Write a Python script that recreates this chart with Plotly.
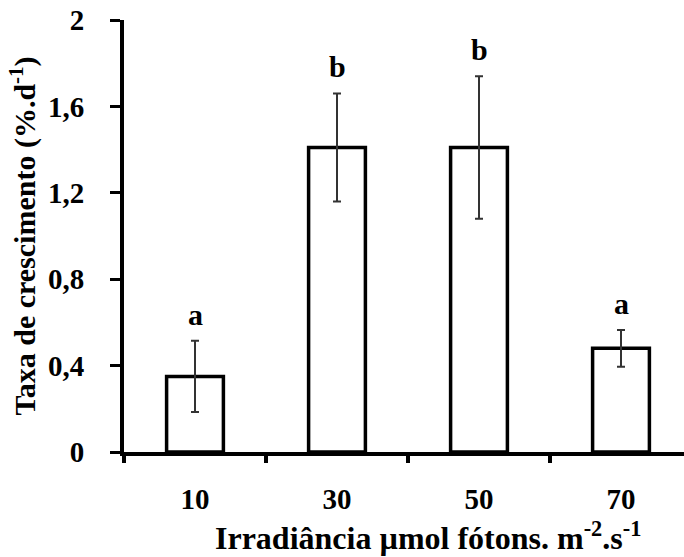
import plotly.graph_objects as go

# Irradiance treatments and mean growth rate with error (± deviation)
irradiance = ["10", "30", "50", "70"]
growth_rate = [0.35, 1.41, 1.41, 0.48]
growth_err = [0.165, 0.25, 0.33, 0.085]
group_letters = ["a", "b", "b", "a"]

y_ticks = [0, 0.4, 0.8, 1.2, 1.6, 2.0]
y_tick_text = ["0", "0,4", "0,8", "1,2", "1,6", "2"]

FONT = "Liberation Serif"

fig = go.Figure()
fig.add_trace(go.Bar(
    x=irradiance,
    y=growth_rate,
    marker=dict(color="white", line=dict(color="black", width=3.5)),
    error_y=dict(type="data", array=growth_err, visible=True,
                 color="#333333", thickness=2, width=4),
    showlegend=False,
))

# significance letters sitting just above each error bar
for i, (letter, m, e) in enumerate(zip(group_letters, growth_rate, growth_err)):
    fig.add_annotation(x=i, y=m + e, text=f"<b>{letter}</b>",
                       showarrow=False, xref="x", yref="y",
                       yanchor="bottom", yshift=8,
                       font=dict(family=FONT, size=30, color="black"))

fig.add_annotation(
    x=0.543, y=0, xref="paper", yref="paper", yanchor="top", yshift=-62,
    text="<b>Irradiância µmol fótons. m<sup>-2</sup>.s<sup>-1</sup></b>",
    showarrow=False, font=dict(family=FONT, size=32, color="black"),
)

fig.update_layout(
    width=684, height=557,
    margin=dict(l=124, r=0, t=20, b=105),
    paper_bgcolor="white", plot_bgcolor="white",
    bargap=0.6,
    font=dict(family=FONT, color="black"),
)

fig.update_xaxes(
    type="category",
    range=[-0.5, -0.5 + 560 / 142],
    showline=True, linecolor="black", linewidth=4,
    ticks="outside", tickson="boundaries", ticklen=7, tickwidth=4, tickcolor="black",
    tickfont=dict(family=FONT, size=29, color="black", weight="bold"),
    ticklabelstandoff=18,
    showgrid=False, zeroline=False,
)

fig.update_yaxes(
    range=[0, 2],
    tickvals=y_ticks, ticktext=y_tick_text,
    showline=True, linecolor="black", linewidth=4,
    ticks="outside", ticklen=10, tickwidth=3, tickcolor="black",
    tickfont=dict(family=FONT, size=29, color="black", weight="bold"),
    ticklabelstandoff=20,
    showgrid=False, zeroline=False,
    title=dict(text="<b>Taxa de crescimento (%.d<sup>-1</sup>)</b>",
               font=dict(family=FONT, size=30, color="black"), standoff=4),
)

fig.write_html("out.html")
